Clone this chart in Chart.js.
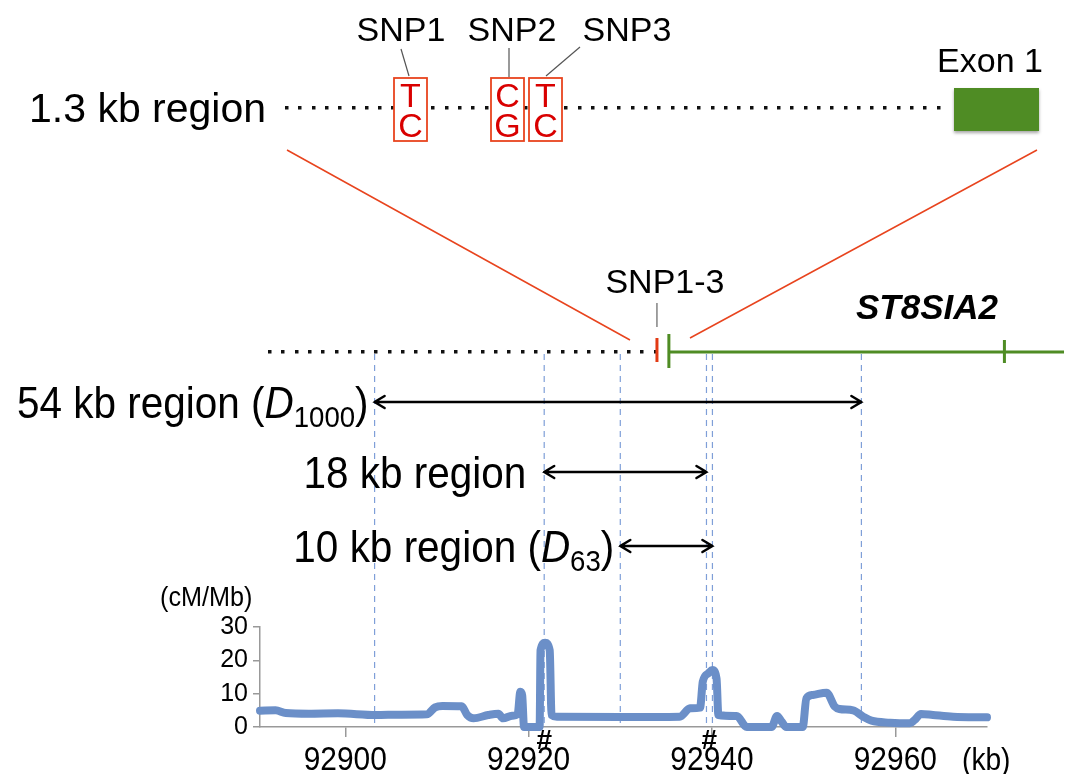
<!DOCTYPE html>
<html lang="en">
<head>
<meta charset="UTF-8">
<title>ST8SIA2 | recombination</title>
<style>
    html, body { margin: 0; padding: 0; background: #fff; }
    #grafico { display: block; }
</style>
</head>
<body>
<canvas id="grafico" width="1070" height="774"></canvas>

<script src="https://cdn.jsdelivr.net/npm/chart.js"></script>
<script>
    // recombination rate along chr15 (kb, cM/Mb)
    const posKb = [92890.7, 92892.4, 92893.5, 92896, 92899.2, 92903.3, 92906, 92908.9, 92909.8, 92910.6,
        92912.7, 92913.3, 92914.0, 92915.6, 92916.7, 92917.2, 92918.2, 92918.8, 92919.1, 92919.3,
        92919.5, 92921.2, 92921.3, 92921.8, 92922.3, 92922.5, 92923.1, 92930, 92936.5, 92937.6,
        92938.7, 92939.0, 92939.6, 92940.05, 92940.5, 92940.7, 92942.7, 92943.6, 92943.8, 92946.5,
        92947.1, 92947.6, 92948.1, 92949.9, 92950.3, 92951.0, 92952.5, 92953.4, 92953.9, 92955.4,
        92956.5, 92957.4, 92959.4, 92961.6, 92962.1, 92962.8, 92964.1, 92966.3, 92970];
    const rateCmMb = [4.9, 5.0, 4.2, 4.0, 4.1, 3.6, 3.7, 3.8, 5.9, 6.3,
        6.2, 3.6, 2.6, 3.6, 4.0, 2.6, 3.4, 3.8, 10.6, 9.5,
        0, 0, 23, 25.3, 23, 3.6, 3.1, 3.0, 3.1, 5.6,
        5.8, 13.6, 16.1, 17.1, 14.5, 3.6, 3.3, 0.3, 0, 0,
        3.3, 1.6, 0, 0, 8.6, 9.6, 10.3, 6.1, 5.4, 5.0,
        3.1, 1.9, 1.3, 1.1, 2.1, 3.9, 3.6, 3.1, 2.9];
    const xTicks = [92900, 92920, 92940, 92960];
    const yTicks = [0, 10, 20, 30];
    const hashKb = [92921.7, 92939.7];

    // regions (start / end in kb)
    const regionNames = ['54 kb region', '18 kb region', '10 kb region'];
    const regionSubs = ['1000', '', '63'];
    const regionStart = [92903.2, 92921.7, 92930.0];
    const regionEnd = [92956.3, 92939.4, 92940.05];

    // gene track (kb)
    const geneDotsFrom = 92891.8;
    const snpKb = 92934.0;
    const exonTicksKb = [92935.3, 92971.9];
    const geneEnd = 92978.4;

    // 1.3 kb close-up
    const snpNames = ['SNP1', 'SNP2', 'SNP3'];
    const snpAlleles = [['T', 'C'], ['C', 'G'], ['T', 'C']];

    const FONT = '"Liberation Sans", Arial, sans-serif';
    const BLUE = '#6b8fc8';
    const GREEN = '#4f8c24';
    const RED = '#e8441e';

    function texto(ctx, t, x, y, size, align, estilo, sx) {
        ctx.save();
        ctx.font = (estilo || '') + ' ' + size + 'px ' + FONT;
        ctx.textAlign = align || 'left';
        ctx.textBaseline = 'alphabetic';
        ctx.translate(x, y);
        ctx.scale(sx || 1, 1);
        ctx.fillText(t, 0, 0);
        ctx.restore();
    }

    function largura(ctx, t, size, estilo, sx) {
        ctx.save();
        ctx.font = (estilo || '') + ' ' + size + 'px ' + FONT;
        const w = ctx.measureText(t).width * (sx || 1);
        ctx.restore();
        return w;
    }

    function pontilhado(ctx, x0, x1, y, passo) {
        ctx.fillStyle = '#111';
        for (let x = x0; x <= x1; x += passo) {
            ctx.fillRect(Math.round(x) - 2, y - 2, 3.5, 3.5);
        }
    }

    function seta(ctx, x0, x1, y) {
        ctx.save();
        ctx.strokeStyle = '#000';
        ctx.lineWidth = 2.5;
        ctx.lineCap = 'round';
        ctx.beginPath();
        ctx.moveTo(x0, y); ctx.lineTo(x1, y);
        ctx.moveTo(x0 + 10, y - 6); ctx.lineTo(x0, y); ctx.lineTo(x0 + 10, y + 6);
        ctx.moveTo(x1 - 10, y - 6); ctx.lineTo(x1, y); ctx.lineTo(x1 - 10, y + 6);
        ctx.stroke();
        ctx.restore();
    }

    // dashed guides under the curve
    const guias = {
        id: 'guias',
        beforeDatasetsDraw(chart) {
            const ctx = chart.ctx;
            const xs = chart.scales.x;
            const bottom = chart.chartArea.bottom;
            const marcas = [...new Set(regionStart.concat(regionEnd))];
            ctx.save();
            ctx.strokeStyle = '#7f9fd8';
            ctx.lineWidth = 1.2;
            ctx.setLineDash([6, 5]);
            marcas.forEach(kb => {
                const x = xs.getPixelForValue(kb);
                ctx.beginPath();
                ctx.moveTo(x, 354);
                ctx.lineTo(x, bottom);
                ctx.stroke();
            });
            ctx.restore();
        }
    };

    const anotacoes = {
        id: 'anotacoes',
        afterDraw(chart) {
            const ctx = chart.ctx;
            const xs = chart.scales.x;
            ctx.save();
            ctx.fillStyle = '#000';

            // ---- 1.3 kb close-up ----
            texto(ctx, '1.3 kb region', 29, 122, 41);
            pontilhado(ctx, 287, 945, 108, 13.3);
            const caixaX = [394, 491, 529];
            const labelX = [401, 512, 627];
            const leader = [[401, 49, 409, 76], [509, 48, 509, 77], [580, 47, 546, 76]];
            ctx.strokeStyle = '#555';
            ctx.lineWidth = 1.2;
            leader.forEach(l => {
                ctx.beginPath(); ctx.moveTo(l[0], l[1]); ctx.lineTo(l[2], l[3]); ctx.stroke();
            });
            snpNames.forEach((n, i) => {
                ctx.fillStyle = '#000';
                texto(ctx, n, labelX[i], 41, 34, 'center');
                ctx.fillStyle = '#fff';
                ctx.fillRect(caixaX[i], 78, 33, 63);
                ctx.strokeStyle = RED;
                ctx.lineWidth = 1.8;
                ctx.strokeRect(caixaX[i], 78, 33, 63);
                ctx.fillStyle = '#d90000';
                texto(ctx, snpAlleles[i][0], caixaX[i] + 16.5, 107, 34, 'center');
                texto(ctx, snpAlleles[i][1], caixaX[i] + 16.5, 137, 34, 'center');
            });
            ctx.fillStyle = '#000';
            texto(ctx, 'Exon 1', 990, 72, 34, 'center');
            ctx.save();
            ctx.shadowColor = 'rgba(0,0,0,0.35)';
            ctx.shadowBlur = 3;
            ctx.shadowOffsetY = 2;
            ctx.fillStyle = GREEN;
            ctx.fillRect(954, 88, 85, 43);
            ctx.restore();

            // zoom lines
            ctx.strokeStyle = RED;
            ctx.lineWidth = 1.5;
            ctx.beginPath();
            ctx.moveTo(287, 150); ctx.lineTo(630, 340);
            ctx.moveTo(1037, 150); ctx.lineTo(690, 338);
            ctx.stroke();

            // ---- gene track ----
            const yGene = 352;
            const xSnp = xs.getPixelForValue(snpKb);
            const xEx = exonTicksKb.map(k => xs.getPixelForValue(k));
            pontilhado(ctx, xs.getPixelForValue(geneDotsFrom), xEx[0] - 6, yGene, 13.3);
            ctx.strokeStyle = GREEN;
            ctx.lineWidth = 3;
            ctx.beginPath();
            ctx.moveTo(xEx[0], yGene); ctx.lineTo(xs.getPixelForValue(geneEnd), yGene);
            ctx.stroke();
            ctx.beginPath();
            ctx.moveTo(xEx[0], 334); ctx.lineTo(xEx[0], 368);
            ctx.moveTo(xEx[1], 340); ctx.lineTo(xEx[1], 363);
            ctx.stroke();
            ctx.strokeStyle = '#e23a14';
            ctx.beginPath();
            ctx.moveTo(xSnp, 338); ctx.lineTo(xSnp, 362);
            ctx.stroke();
            ctx.strokeStyle = '#444';
            ctx.lineWidth = 1;
            ctx.beginPath();
            ctx.moveTo(xSnp, 303); ctx.lineTo(xSnp, 327);
            ctx.stroke();
            ctx.fillStyle = '#000';
            texto(ctx, 'SNP1-3', xSnp + 8, 293, 34, 'center');
            texto(ctx, 'ST8SIA2', 927, 319, 35, 'center', 'italic bold');

            // ---- regions with arrows ----
            const yArrow = [402, 472, 546];
            const SX = 0.92, SZ = 44, SUB = 30;
            regionNames.forEach((nome, i) => {
                const x0 = xs.getPixelForValue(regionStart[i]);
                const x1 = xs.getPixelForValue(regionEnd[i]);
                seta(ctx, x0, x1, yArrow[i]);
                const yb = yArrow[i] + 16;
                let xr = x0 - (regionSubs[i] ? 6 : 18);
                if (regionSubs[i]) {
                    xr -= largura(ctx, ')', SZ, '', SX);
                    texto(ctx, ')', xr, yb, SZ, 'left', '', SX);
                    xr -= largura(ctx, regionSubs[i], SUB, '', SX);
                    texto(ctx, regionSubs[i], xr, yb + 9, SUB, 'left', '', SX);
                    xr -= largura(ctx, 'D', SZ, 'italic', SX);
                    texto(ctx, 'D', xr, yb, SZ, 'left', 'italic', SX);
                    texto(ctx, nome + ' (', xr, yb, SZ, 'right', '', SX);
                } else {
                    texto(ctx, nome, xr, yb, SZ, 'right', '', SX);
                }
            });

            // ---- axis labels (condensed, like the original) ----
            xs.ticks.forEach(t => {
                texto(ctx, String(t.value), xs.getPixelForValue(t.value), 770, 34, 'center', '', 0.88);
            });
            texto(ctx, '(cM/Mb)', 160, 606, 28, 'left', '', 0.9);
            texto(ctx, '(kb)', 962, 770, 32, 'left', '', 0.88);
            hashKb.forEach(k => {
                texto(ctx, '#', xs.getPixelForValue(k), 749, 28, 'center', 'bold');
            });
            ctx.restore();
        }
    };

    const fundo = {
        id: 'fundo',
        beforeDraw(chart) {
            const ctx = chart.ctx;
            ctx.save();
            ctx.fillStyle = '#fff';
            ctx.fillRect(0, 0, chart.width, chart.height);
            ctx.restore();
        }
    };

    const ctx = document.getElementById('grafico').getContext('2d');
    const grafico = new Chart(ctx, {
        type: 'line',
        data: {
            datasets: [{
                label: 'cM/Mb',
                data: posKb.map((x, i) => ({ x: x, y: rateCmMb[i] })),
                borderColor: BLUE,
                borderWidth: 8,
                borderJoinStyle: 'round',
                borderCapStyle: 'round',
                cubicInterpolationMode: 'monotone',
                pointRadius: 0,
                fill: false,
                clip: false
            }]
        },
        options: {
            responsive: false,
            devicePixelRatio: 1,
            animation: false,
            layout: { padding: { top: 627, right: 83, left: 0, bottom: 0 } },
            plugins: { legend: { display: false }, tooltip: { enabled: false } },
            scales: {
                x: {
                    type: 'linear',
                    min: 92890.7,
                    max: 92970,
                    afterFit: s => { s.height = 47; },
                    afterBuildTicks: s => { s.ticks = xTicks.map(v => ({ value: v })); },
                    grid: { drawOnChartArea: false, color: '#999', tickLength: 10, lineWidth: 1.5 },
                    border: { color: '#999', width: 1.5 },
                    ticks: { display: false }
                },
                y: {
                    min: 0,
                    max: 30,
                    afterFit: s => { s.width = 260; },
                    afterBuildTicks: s => { s.ticks = yTicks.map(v => ({ value: v })); },
                    grid: { drawOnChartArea: false, color: '#999', tickLength: 7, lineWidth: 1.5 },
                    border: { color: '#999', width: 1.5 },
                    ticks: {
                        color: '#000',
                        padding: 5,
                        autoSkip: false,
                        font: { family: FONT, size: 25 },
                        callback: v => String(v)
                    }
                }
            }
        },
        plugins: [fundo, guias, anotacoes]
    });
</script>
</body>
</html>
